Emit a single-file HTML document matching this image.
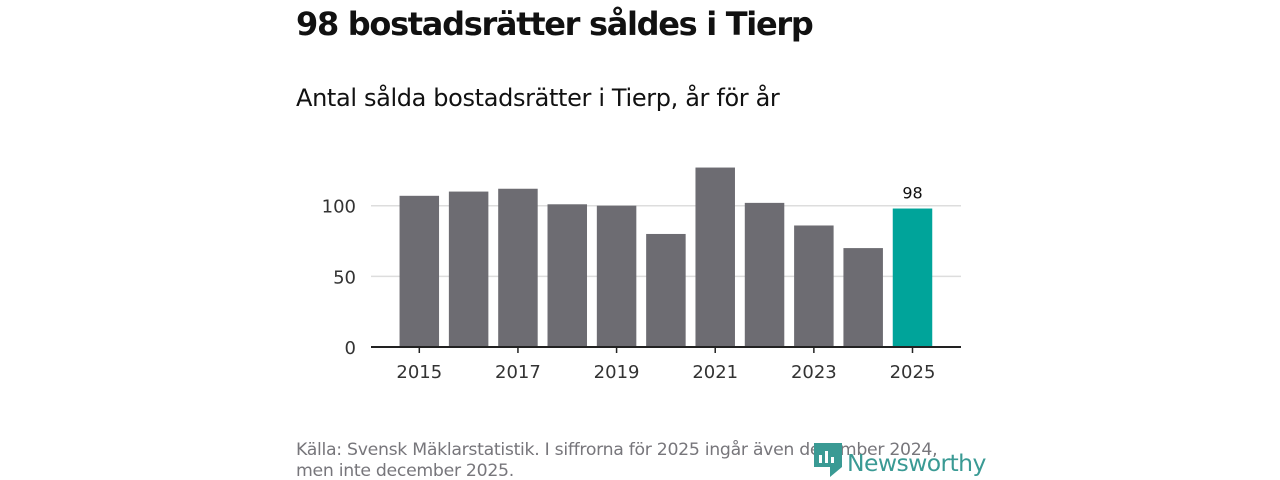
<!DOCTYPE html>
<html><head><meta charset="utf-8"><style>
body{margin:0;background:#fff;font-family:"Liberation Sans","DejaVu Sans",sans-serif;}
#wrap{position:relative;width:1280px;height:480px;overflow:hidden}
h1{position:absolute;left:296px;top:5px;margin:0;font-size:32px;font-weight:bold;color:#111;font-family:"DejaVu Sans",sans-serif;letter-spacing:-1.3px}
h2{position:absolute;left:296px;top:84px;margin:0;font-size:24px;font-weight:normal;color:#111;font-family:"DejaVu Sans",sans-serif;letter-spacing:-0.35px}
.foot{position:absolute;left:296px;top:440px;font-size:17.3px;line-height:21px;color:#77767b;font-family:"DejaVu Sans",sans-serif;letter-spacing:-0.3px}
.logo{position:absolute;left:813px;top:443px;font-size:23.5px;color:#3a9a94;font-family:"DejaVu Sans",sans-serif;letter-spacing:-0.6px}
</style></head><body><div id="wrap">
<h1>98 bostadsrätter såldes i Tierp</h1>
<h2>Antal sålda bostadsrätter i Tierp, år för år</h2>
<svg id="c" width="1280" height="480" style="position:absolute;left:0;top:0"></svg>
<div class="foot">Källa: Svensk Mäklarstatistik. I siffrorna för 2025 ingår även december 2024,<br>men inte december 2025.</div>
<div class="logo"><svg width="30" height="34" viewBox="0 0 28 34" style="vertical-align:-6px;margin-right:4px"><path d="M0 0h28v24l-12 10v-10H0z" fill="#3a9a94"/><rect x="5" y="12" width="3" height="8" fill="#fff"/><rect x="11" y="8" width="3" height="12" fill="#fff"/><rect x="17" y="14" width="3" height="6" fill="#fff"/></svg>Newsworthy</div>
</div>
<script>
const years=[2015,2016,2017,2018,2019,2020,2021,2022,2023,2024,2025];
const values=[107,110,112,101,100,80,127,102,86,70,98];
const yTicks=[0,50,100];
const xTickLabels=[2015,2017,2019,2021,2023,2025];
const NS="http://www.w3.org/2000/svg";
const svg=document.getElementById('c');
const y0=347,k=1.413,step=49.32,c0=419.3,bw=39.5;
const y=v=>y0-v*k, x=i=>c0+i*step;
function el(t,a){const e=document.createElementNS(NS,t);for(const n in a)e.setAttribute(n,a[n]);svg.appendChild(e);return e;}
yTicks.forEach(t=>{
  if(t>0){const g=el('line',{x1:371,x2:961,y1:y(t),y2:y(t),stroke:'#ddd','stroke-width':1.5});
  
  }
  const tx=el('text',{x:356,y:y(t)+7,'text-anchor':'end','font-size':18,fill:'#333','font-family':'DejaVu Sans, sans-serif'});
  tx.textContent=t;
  
  
});
values.forEach((v,i)=>{
  const last=i===values.length-1;
  const r=el('rect',{x:x(i)-bw/2,y:y(v),width:bw,height:v*k,fill:last?'#00a49a':'#6d6c72'});
  
  
  if(last){const t=el('text',{x:x(i),y:y(v)-10,'text-anchor':'middle','font-size':16,fill:'#111','font-family':'DejaVu Sans, sans-serif'});t.textContent=v;
  
  }
});
const ax=el('line',{x1:371,x2:961,y1:y0,y2:y0,stroke:'#222','stroke-width':2});


xTickLabels.forEach(yr=>{
  const i=years.indexOf(yr);
  const tk=el('line',{x1:x(i),x2:x(i),y1:y0,y2:y0+6,stroke:'#222','stroke-width':1.5});
  
  
  const t=el('text',{x:x(i),y:y0+31,'text-anchor':'middle','font-size':18,fill:'#333','font-family':'DejaVu Sans, sans-serif'});
  t.textContent=yr;
  
  
});
</script></body></html>
